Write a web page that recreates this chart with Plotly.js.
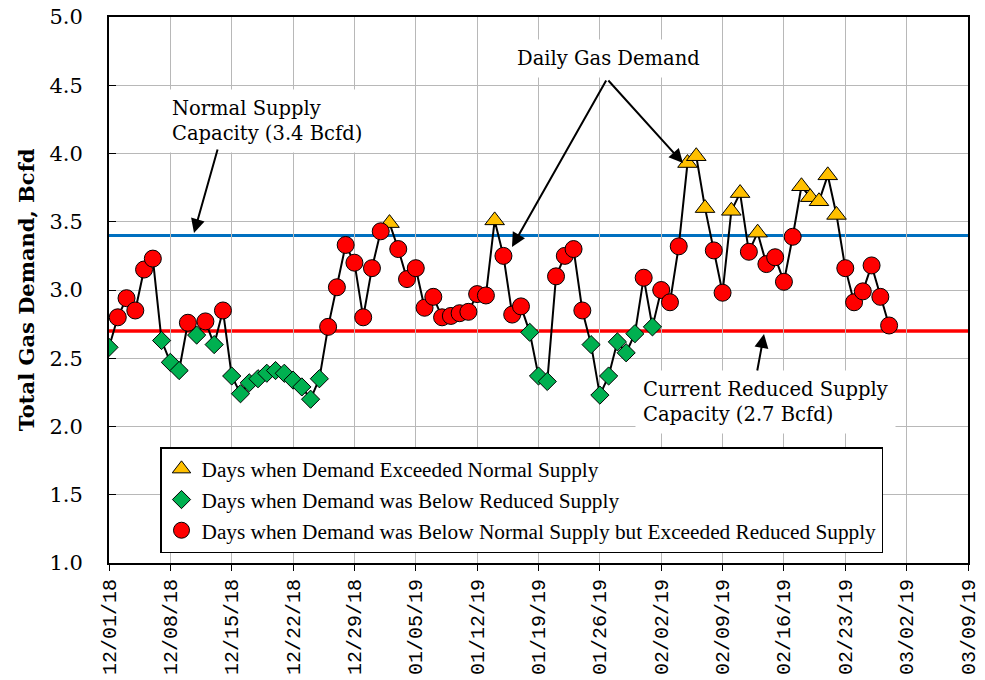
<!DOCTYPE html>
<html>
<head>
<meta charset="utf-8">
<script src="https://cdn.plot.ly/plotly-3.0.1.min.js"></script>
<style>
  html, body { margin: 0; padding: 0; background: #ffffff; }
  #chart { width: 985px; height: 680px; }
</style>
</head>
<body>
<div id="chart"></div>
<script>
// ---------- DATA ----------
const dates = [
  '2018-12-01','2018-12-02','2018-12-03','2018-12-04','2018-12-05','2018-12-06','2018-12-07','2018-12-08','2018-12-09','2018-12-10',
  '2018-12-11','2018-12-12','2018-12-13','2018-12-14','2018-12-15','2018-12-16','2018-12-17','2018-12-18','2018-12-19','2018-12-20',
  '2018-12-21','2018-12-22','2018-12-23','2018-12-24','2018-12-25','2018-12-26','2018-12-27','2018-12-28','2018-12-29','2018-12-30',
  '2018-12-31','2019-01-01','2019-01-02','2019-01-03','2019-01-04','2019-01-05','2019-01-06','2019-01-07','2019-01-08','2019-01-09',
  '2019-01-10','2019-01-11','2019-01-12','2019-01-13','2019-01-14','2019-01-15','2019-01-16','2019-01-17','2019-01-18','2019-01-19',
  '2019-01-20','2019-01-21','2019-01-22','2019-01-23','2019-01-24','2019-01-25','2019-01-26','2019-01-27','2019-01-28','2019-01-29',
  '2019-01-30','2019-01-31','2019-02-01','2019-02-02','2019-02-03','2019-02-04','2019-02-05','2019-02-06','2019-02-07','2019-02-08',
  '2019-02-09','2019-02-10','2019-02-11','2019-02-12','2019-02-13','2019-02-14','2019-02-15','2019-02-16','2019-02-17','2019-02-18',
  '2019-02-19','2019-02-20','2019-02-21','2019-02-22','2019-02-23','2019-02-24','2019-02-25','2019-02-26','2019-02-27','2019-02-28'
];

const demand = [
  2.58, 2.80, 2.94, 2.85, 3.15, 3.23, 2.63, 2.47, 2.41, 2.76,
  2.67, 2.77, 2.60, 2.85, 2.37, 2.24, 2.32, 2.35, 2.39, 2.41,
  2.39, 2.34, 2.29, 2.20, 2.35, 2.73, 3.02, 3.33, 3.20, 2.80,
  3.16, 3.43, 3.49, 3.30, 3.08, 3.16, 2.87, 2.95, 2.80, 2.81,
  2.83, 2.84, 2.97, 2.96, 3.51, 3.25, 2.82, 2.88, 2.69, 2.37,
  2.33, 3.10, 3.25, 3.30, 2.85, 2.60, 2.23, 2.37, 2.62, 2.54,
  2.68, 3.09, 2.73, 3.00, 2.91, 3.32, 3.93, 3.98, 3.60, 3.29,
  2.98, 3.58, 3.71, 3.28, 3.42, 3.19, 3.24, 3.06, 3.39, 3.76,
  3.68, 3.65, 3.84, 3.55, 3.16, 2.91, 2.99, 3.18, 2.95, 2.74
];

// Marker class: T = exceeded normal, D = below reduced, C = between
const dayClass = [
  'D','C','C','C','C','C','D','D','D','C',
  'D','C','D','C','D','D','D','D','D','D',
  'D','D','D','D','D','C','C','C','C','C',
  'C','C','T','C','C','C','C','C','C','C',
  'C','C','C','C','T','C','C','C','D','D',
  'D','C','C','C','C','D','D','D','D','D',
  'D','C','D','C','C','C','T','T','T','C',
  'C','T','T','C','T','C','C','C','C','T',
  'T','T','T','T','C','C','C','C','C','C'
];

const normalSupply = 3.4;
const reducedSupply = 2.7;

const seriesNames = {
  T: 'Days when Demand Exceeded Normal Supply',
  D: 'Days when Demand was Below Reduced Supply',
  C: 'Days when Demand was Below Normal Supply but Exceeded Reduced Supply'
};

const xRange = ['2018-12-01', '2019-03-09'];
const yRange = [1.0, 5.0];

// ---------- STYLES ----------
const serif = 'DejaVu Serif, Liberation Serif, serif';
const legendFont = 'Liberation Serif, serif';
const markerStyles = {
  T: { symbol: 'triangle-up', size: 17, color: '#FFC000' },
  D: { symbol: 'diamond', size: 14, color: '#00B050' },
  C: { symbol: 'circle', size: 17, color: '#FF0000' }
};

function pick(cls) {
  const x = [], y = [];
  dates.forEach((d, i) => { if (dayClass[i] === cls) { x.push(d); y.push(demand[i]); } });
  return { x, y };
}

const traces = [{
  x: dates, y: demand, type: 'scatter', mode: 'lines',
  line: { color: '#000000', width: 2 }, showlegend: false, hoverinfo: 'skip'
}];

['T', 'D', 'C'].forEach(cls => {
  const p = pick(cls);
  const st = markerStyles[cls];
  traces.push({
    x: p.x, y: p.y, type: 'scatter', mode: 'markers', name: seriesNames[cls],
    marker: { symbol: st.symbol, size: st.size, color: st.color, line: { color: '#000000', width: 1 } }
  });
});

// pixel helpers for annotation placement (paper coords)
const L = 109, R = 17, T = 17, B = 117, W = 985, H = 680;
const pw = W - L - R, ph = H - T - B;
const px = v => (v - L) / pw;
const py = v => (H - B - v) / ph;

const annFont = { family: serif, size: 19.5, color: '#000000' };

const layout = {
  width: W, height: H,
  margin: { l: L, r: R, t: T, b: B, pad: 0 },
  paper_bgcolor: '#ffffff', plot_bgcolor: '#ffffff',
  showlegend: true,
  legend: {
    x: px(160), y: py(447), xanchor: 'left', yanchor: 'top',
    bgcolor: '#ffffff', bordercolor: '#000000', borderwidth: 1.5,
    font: { family: legendFont, size: 21.3, color: '#000000' },
    traceorder: 'normal'
  },
  xaxis: {
    type: 'date', range: xRange, tick0: '2018-12-01', dtick: 7 * 86400000,
    tickformat: '%m/%d/%y', tickangle: -90,
    tickfont: { family: 'Liberation Mono, DejaVu Sans Mono, monospace', size: 20, color: '#000000' },
    showgrid: true, gridcolor: '#b8b8b8', gridwidth: 1,
    showline: true, linecolor: '#000000', linewidth: 2, mirror: true,
    ticks: 'outside', ticklen: 6, tickcolor: '#000000', tickwidth: 1,
    zeroline: false, fixedrange: true
  },
  yaxis: {
    range: yRange, dtick: 0.5, tick0: 1, tickformat: '.1f',
    tickfont: { family: serif, size: 21, color: '#000000' },
    ticklabelstandoff: 20,
    title: { text: 'Total Gas Demand, Bcfd', font: { family: serif, size: 21, color: '#000000', weight: 'bold' }, standoff: 9 },
    showgrid: true, gridcolor: '#b8b8b8', gridwidth: 1,
    showline: true, linecolor: '#000000', linewidth: 2, mirror: true,
    ticks: 'inside', ticklen: 7, tickcolor: '#000000', tickwidth: 1,
    zeroline: false, fixedrange: true
  },
  shapes: [
    { type: 'line', xref: 'paper', x0: 0, x1: 1, yref: 'y', y0: normalSupply, y1: normalSupply,
      line: { color: '#0070C0', width: 3 }, layer: 'between' },
    { type: 'line', xref: 'paper', x0: 0, x1: 1, yref: 'y', y0: reducedSupply, y1: reducedSupply,
      line: { color: '#FF0000', width: 3.5 }, layer: 'between' }
  ],
  annotations: [
    // text boxes
    { xref: 'paper', yref: 'paper', x: px(164), y: py(121), xanchor: 'left', yanchor: 'middle',
      text: 'Normal Supply<br>Capacity (3.4 Bcfd)', align: 'left', showarrow: false,
      bgcolor: '#ffffff', borderpad: 7, font: annFont },
    { xref: 'paper', yref: 'paper', x: px(608), y: py(59), xanchor: 'center', yanchor: 'middle',
      text: 'Daily Gas Demand', showarrow: false, bgcolor: '#ffffff', borderpad: 7, font: annFont },
    { xref: 'paper', yref: 'paper', x: px(635), y: py(402), xanchor: 'left', yanchor: 'middle',
      text: 'Current Reduced Supply<br>Capacity (2.7 Bcfd)', align: 'left', showarrow: false,
      bgcolor: '#ffffff', borderpad: 7, font: annFont },
    // arrows
    { xref: 'paper', yref: 'paper', x: px(194), y: py(233), ax: 24, ay: -85, text: '',
      showarrow: true, arrowhead: 2, arrowsize: 1.4, arrowwidth: 2, arrowcolor: '#000000' },
    { xref: 'paper', yref: 'paper', x: px(512), y: py(247), ax: 95, ay: -168, text: '',
      showarrow: true, arrowhead: 2, arrowsize: 1.4, arrowwidth: 2, arrowcolor: '#000000' },
    { xref: 'paper', yref: 'paper', x: px(683), y: py(163), ax: -76, ay: -84, text: '',
      showarrow: true, arrowhead: 2, arrowsize: 1.4, arrowwidth: 2, arrowcolor: '#000000' },
    { xref: 'paper', yref: 'paper', x: px(764), y: py(334), ax: -7, ay: 38, text: '',
      showarrow: true, arrowhead: 2, arrowsize: 1.4, arrowwidth: 2, arrowcolor: '#000000' }
  ]
};

Plotly.newPlot('chart', traces, layout, { displayModeBar: false, staticPlot: true });
</script>
</body>
</html>
